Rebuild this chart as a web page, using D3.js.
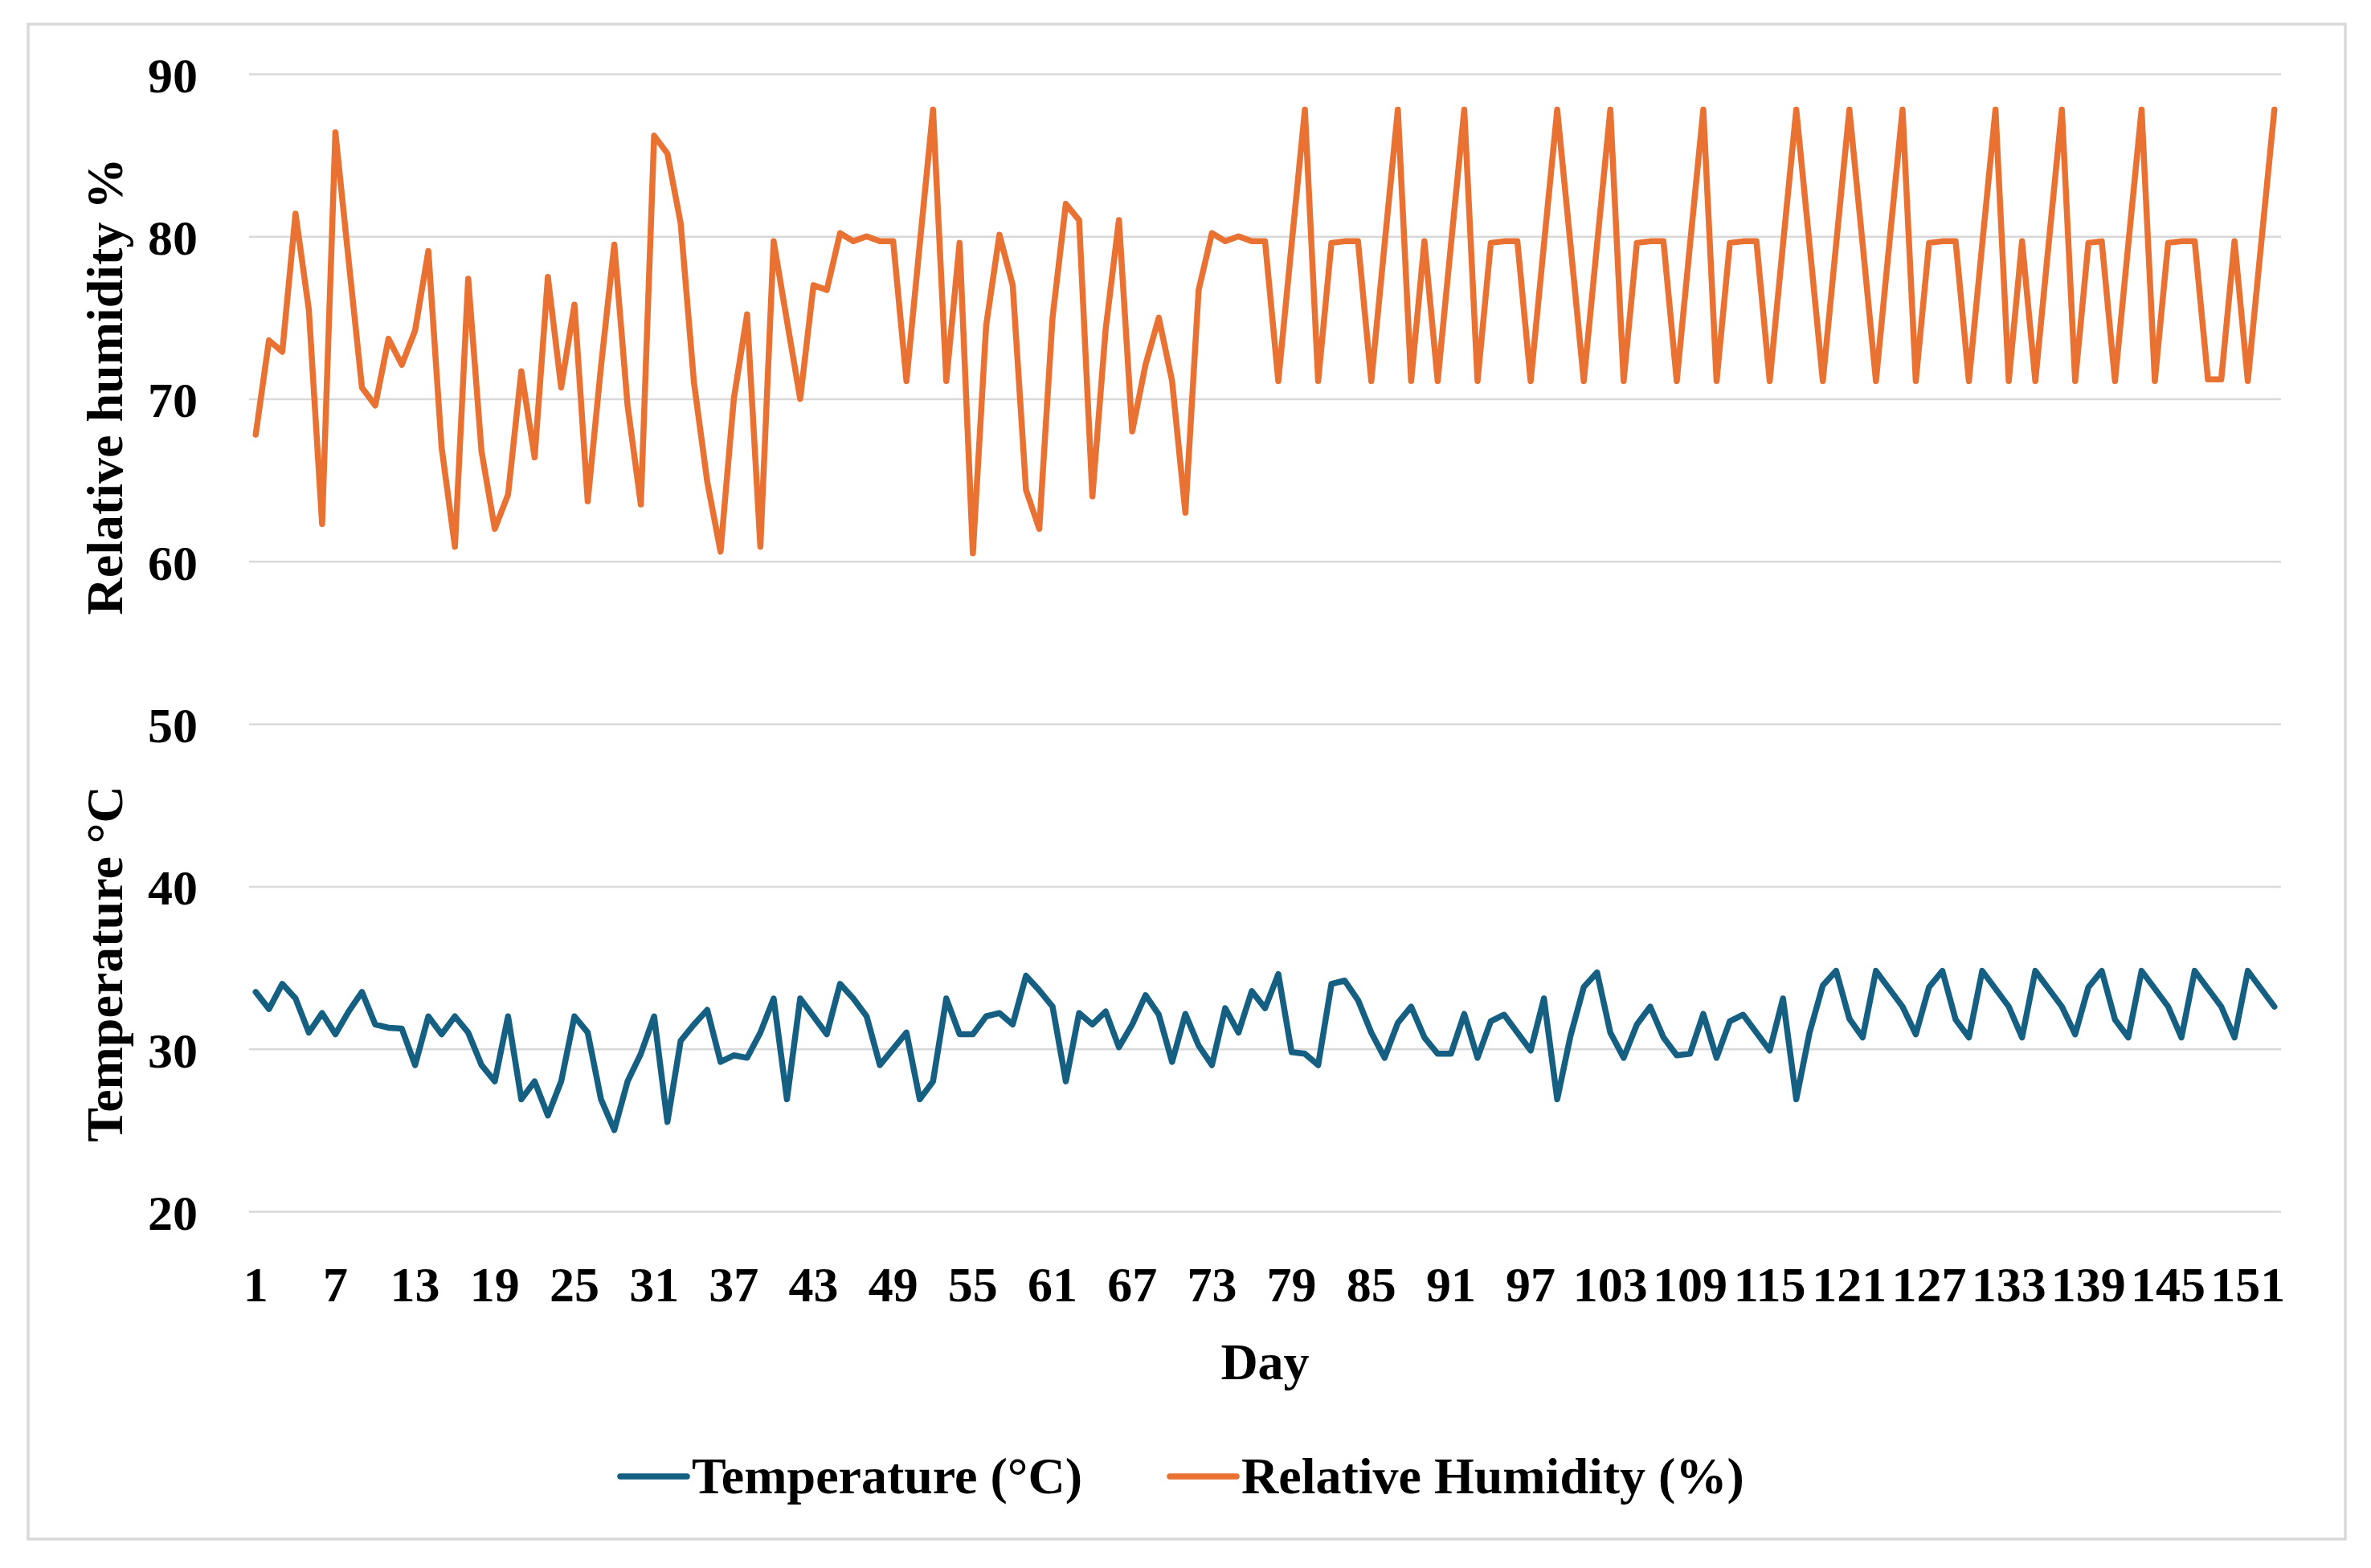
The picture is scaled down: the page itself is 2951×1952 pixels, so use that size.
<!DOCTYPE html>
<html>
<head>
<meta charset="utf-8">
<script src="https://cdn.jsdelivr.net/npm/d3@7"></script>
<style>
  body { margin: 0; background: #fff; }
  text { font-family: 'Palatino Linotype', 'Book Antiqua', Palatino, 'Liberation Serif', serif; font-weight: bold; fill: #000; }
</style>
</head>
<body>
<div id="chart"></div>
<script>
// days 1..153
const days = d3.range(1, 154);

const temperature = [
  33.5, 32.45, 34.0, 33.1, 31.0, 32.2, 30.9, 32.3, 33.5, 31.5,
  31.3, 31.25, 29.0, 32.0, 30.9, 32.0, 31.0, 29.0, 28.0, 32.0,
  26.9, 28.0, 25.9, 28.0, 32.0, 31.0, 26.9, 25.0, 28.0, 29.7,
  32.0, 25.5, 30.5, 31.5, 32.4, 29.2, 29.6, 29.45, 31.0, 33.1,
  26.9, 33.1, 32.0, 30.9, 34.0, 33.1, 32.0, 29.0, 30.0, 31.0,
  26.9, 28.0, 33.1, 30.9, 30.9, 32.0, 32.2, 31.5, 34.5, 33.6,
  32.6, 28.0, 32.2, 31.5, 32.3, 30.1, 31.5, 33.3, 32.1, 29.2,
  32.15, 30.2, 29.0, 32.5, 31.0, 33.55, 32.5, 34.6, 29.8, 29.7,
  29.0, 34.0, 34.2, 33.0, 31.0, 29.45, 31.6, 32.6, 30.7, 29.7,
  29.7, 32.15, 29.45, 31.7, 32.1, 31.0, 29.9, 33.1, 26.9, 30.8,
  33.8, 34.7, 31.0, 29.45, 31.5, 32.6, 30.7, 29.6, 29.7, 32.15,
  29.45, 31.7, 32.1, 31.0, 29.9, 33.1, 26.9, 31.0, 33.9, 34.8,
  31.85, 30.7, 34.8, 33.7, 32.6, 30.9, 33.8, 34.8, 31.8, 30.7,
  34.8, 33.7, 32.6, 30.7, 34.8, 33.7, 32.6, 30.9, 33.8, 34.8,
  31.8, 30.7, 34.8, 33.7, 32.6, 30.7, 34.8, 33.7, 32.6, 30.7,
  34.8, 33.7, 32.6
];

const humidity = [
  67.8, 73.6, 72.9, 81.4, 75.5, 62.3, 86.4, 78.5, 70.7, 69.6,
  73.7, 72.1, 74.2, 79.1, 67.0, 60.9, 77.4, 66.8, 62.0, 64.1,
  71.7, 66.4, 77.5, 70.7, 75.8, 63.7, 72.0, 79.5, 69.6, 63.5,
  86.2, 85.1, 80.8, 71.0, 64.9, 60.6, 70.0, 75.2, 60.9, 79.7,
  74.8, 70.0, 77.0, 76.7, 80.2, 79.7, 80.0, 79.7, 79.7, 71.1,
  79.5, 87.8, 71.1, 79.6, 60.5, 74.5, 80.1, 77.0, 64.4, 62.0,
  75.0, 82.0, 81.0, 64.0, 74.3, 81.0, 68.0, 72.1, 75.0, 71.1,
  63.0, 76.7, 80.2, 79.7, 80.0, 79.7, 79.7, 71.1, 79.5, 87.8,
  71.1, 79.6, 79.7, 79.7, 71.1, 79.5, 87.8, 71.1, 79.7, 71.1,
  79.5, 87.8, 71.1, 79.6, 79.7, 79.7, 71.1, 79.5, 87.8, 79.5,
  71.1, 79.5, 87.8, 71.1, 79.6, 79.7, 79.7, 71.1, 79.5, 87.8,
  71.1, 79.6, 79.7, 79.7, 71.1, 79.5, 87.8, 79.5, 71.1, 79.5,
  87.8, 79.5, 71.1, 79.5, 87.8, 71.1, 79.6, 79.7, 79.7, 71.1,
  79.5, 87.8, 71.1, 79.7, 71.1, 79.5, 87.8, 71.1, 79.6, 79.7,
  71.1, 79.5, 87.8, 71.1, 79.6, 79.7, 79.7, 71.2, 71.2, 79.7,
  71.1, 79.5, 87.8
];

const yTicks = [20, 30, 40, 50, 60, 70, 80, 90];
const xTickDays = days.filter((d, i) => i % 6 === 0);

const series = [
  { name: 'Temperature (°C)', values: temperature, color: '#156082' },
  { name: 'Relative Humidity (%)', values: humidity, color: '#E97132' }
];

const W = 2951, H = 1952;
const plot = { left: 310, right: 2839, top: 92, bottom: 1508 };

const svg = d3.select('#chart')
  .append('svg')
  .attr('width', W)
  .attr('height', H);

svg.append('rect')
  .attr('width', W).attr('height', H).attr('fill', '#fff');

// chart area border
svg.append('rect')
  .attr('x', 35).attr('y', 30)
  .attr('width', 2884).attr('height', 1886)
  .attr('fill', 'none')
  .attr('stroke', '#d9d9d9')
  .attr('stroke-width', 3.5);

const x = d3.scaleBand()
  .domain(days)
  .range([plot.left, plot.right]);

const y = d3.scaleLinear()
  .domain([20, 90])
  .range([plot.bottom, plot.top]);

const cx = d => x(d) + x.bandwidth() / 2;

// gridlines
const grid = svg.append('g')
  .attr('transform', `translate(${plot.left},0)`)
  .call(d3.axisLeft(y).tickValues(yTicks).tickSize(-(plot.right - plot.left)).tickFormat(''));
grid.select('.domain').remove();
grid.selectAll('line').attr('stroke', '#d9d9d9').attr('stroke-width', 2.5);

// y axis labels
const yAxis = svg.append('g')
  .attr('transform', `translate(${plot.left},0)`)
  .call(d3.axisLeft(y).tickValues(yTicks).tickSize(0).tickPadding(64));
yAxis.select('.domain').remove();
yAxis.selectAll('text')
  .attr('font-size', 62)
  .attr('dy', '0.36em');

// x axis labels
const xAxis = svg.append('g')
  .attr('transform', `translate(0,${plot.bottom})`)
  .call(d3.axisBottom(x).tickValues(xTickDays).tickSize(0).tickPadding(90));
xAxis.select('.domain').remove();
xAxis.selectAll('text')
  .attr('font-size', 62)
  .attr('dy', '0.36em');
d3.selectAll('g').attr('font-family', null);

// lines
const line = d3.line()
  .x((v, i) => cx(days[i]))
  .y(v => y(v));

svg.selectAll('.series')
  .data(series)
  .enter()
  .append('path')
  .attr('class', 'series')
  .attr('d', s => line(s.values))
  .attr('fill', 'none')
  .attr('stroke', s => s.color)
  .attr('stroke-width', 7.5)
  .attr('stroke-linejoin', 'round')
  .attr('stroke-linecap', 'round');

// axis titles
svg.append('text')
  .attr('transform', 'translate(152,481) rotate(-90)')
  .attr('text-anchor', 'middle')
  .attr('font-size', 64)
  .text('Relative humidity %');

svg.append('text')
  .attr('transform', 'translate(152,1200) rotate(-90)')
  .attr('text-anchor', 'middle')
  .attr('font-size', 64)
  .text('Temperature °C');

svg.append('text')
  .attr('x', (plot.left + plot.right) / 2)
  .attr('y', 1717)
  .attr('text-anchor', 'middle')
  .attr('font-size', 64)
  .text('Day');

// legend
const legendX = [772, 1456];
const legend = svg.selectAll('.legend')
  .data(series)
  .enter()
  .append('g')
  .attr('class', 'legend')
  .attr('transform', (s, i) => `translate(${legendX[i]},1838)`);

legend.append('line')
  .attr('x1', 0).attr('x2', 83)
  .attr('y1', 0).attr('y2', 0)
  .attr('stroke', s => s.color)
  .attr('stroke-width', 7.5)
  .attr('stroke-linecap', 'round');

legend.append('text')
  .attr('x', 89)
  .attr('y', 21)
  .attr('font-size', 64)
  .text(s => s.name);
</script>
</body>
</html>
